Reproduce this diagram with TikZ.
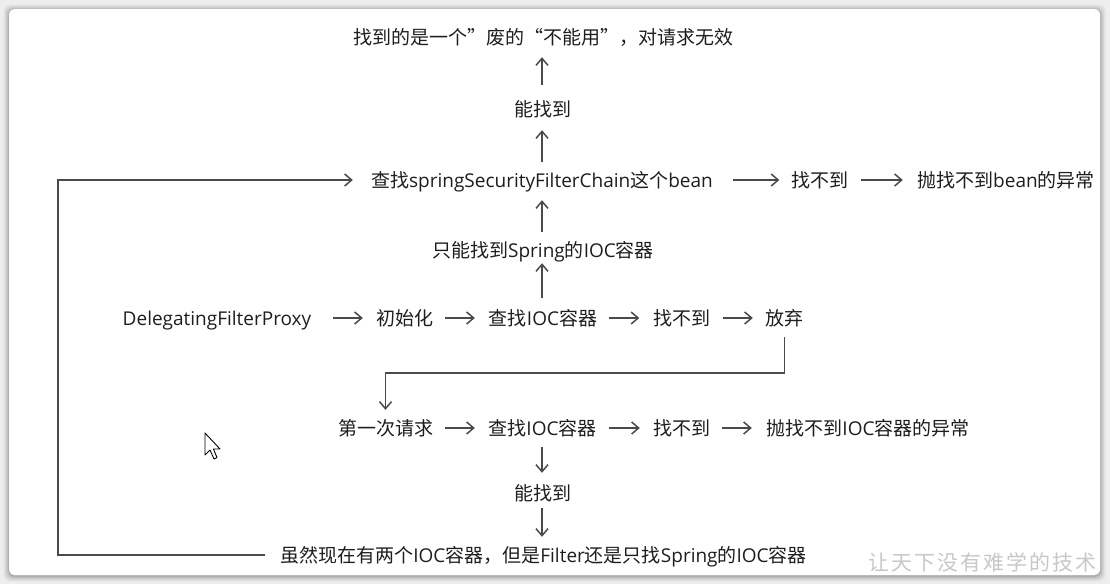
\documentclass[tikz,border=0pt]{standalone}
\usepackage{fontspec}
\setmainfont{Noto Sans CJK SC}
\newfontfamily\latinfont{Open Sans}
\newcommand\ltn[1]{{\latinfont #1}}
\usetikzlibrary{arrows.meta}
\definecolor{txt}{HTML}{1E1E1E}
\definecolor{ln}{HTML}{4A4A4A}
\definecolor{bg}{HTML}{EEEEEE}
\definecolor{wm}{HTML}{C8C8C8}
\begin{document}
\begin{tikzpicture}[x=1pt,y=-1pt,
  lbl/.style={inner sep=0pt, text height=16pt, text depth=2pt,
    font=\fontsize{19}{22}\selectfont, text=txt},
  flow/.style={draw=ln, line width=1.5pt,
    -{Straight Barb[length=7pt,width=12pt,line width=1.5pt]}}]
% page and card
\useasboundingbox (0,0) rectangle (1110,584);
\fill[bg] (0,0) rectangle (1110,584);
\foreach \d/\o in {6/0.02,5/0.03,4/0.04,3/0.05,2/0.06,1/0.08}
  \fill[black,opacity=\o,rounded corners=7pt] (9-\d,9-\d+1) rectangle (1100+\d,575+\d+1);
\fill[white,rounded corners=6pt] (9,9) rectangle (1100,575);

% guide coordinates
\coordinate (colx) at (542,0);
\coordinate (lx) at (58,0);
\coordinate (turn) at (0,373);

% labels
\node[lbl, minimum width=380pt] (res) at (543,37) {找到的是一个”废的“不能用”，对请求无效};
\node[lbl, minimum width=55pt] (find1) at (542.5,109) {能找到};
\node[lbl, minimum width=348pt] (chain) at (542,180) {查找\ltn{springSecurityFilterChain}这个\ltn{bean}};
\node[lbl, minimum width=56pt] (nf1) at (820,180) {找不到};
\node[lbl, minimum width=178pt] (exb) at (1006,180) {抛找不到\ltn{bean}的异常};
\node[lbl, minimum width=226pt] (spring) at (543,250) {只能找到\ltn{Spring}的\ltn{IOC}容器};
\node[lbl, minimum width=192pt] (dfp) at (217,318) {\ltn{DelegatingFilterProxy}};
\node[lbl, minimum width=57pt] (init) at (404.5,318) {初始化};
\node[lbl, minimum width=110pt] (ioc1) at (543,318) {查找\ltn{IOC}容器};
\node[lbl, minimum width=56pt] (nf2) at (682,318) {找不到};
\node[lbl, minimum width=39pt] (give) at (784.5,318) {放弃};
\node[lbl, minimum width=95pt] (req) at (385.5,428) {第一次请求};
\node[lbl, minimum width=109pt] (ioc2) at (542.5,428) {查找\ltn{IOC}容器};
\node[lbl, minimum width=57pt] (nf3) at (681.5,428) {找不到};
\node[lbl, minimum width=204pt] (exi) at (868,428) {抛找不到\ltn{IOC}容器的异常};
\node[lbl, minimum width=55pt] (find2) at (542.5,493) {能找到};
\node[lbl, minimum width=533pt] (both) at (543.5,555) {虽然现在有两个\ltn{IOC}容器，但是\ltn{Filter}还是只找\ltn{Spring}的\ltn{IOC}容器};

% startup row
\draw[flow, shorten <=20pt, shorten >=13pt] (dfp.east) -- (init.west);
\draw[flow, shorten <=12pt, shorten >=13pt] (init.east) -- (ioc1.west);
\draw[flow, shorten <=11pt, shorten >=14pt] (ioc1.east) -- (nf2.west);
\draw[flow, shorten <=12pt, shorten >=12pt] (nf2.east) -- (give.west);

% upward chain
\draw[flow, shorten <=11pt, shorten >=4pt] (ioc1.north -| colx) -- (spring.south -| colx);
\draw[flow, shorten <=9pt, shorten >=11pt] (spring.north -| colx) -- (chain.south -| colx);
\draw[flow, shorten <=9pt, shorten >=12pt] (chain.north -| colx) -- (find1.south -| colx);
\draw[flow, shorten <=15pt, shorten >=11pt] (find1.north -| colx) -- (res.south -| colx);

% bean lookup row
\draw[flow, shorten <=17pt, shorten >=12pt] (chain.east) -- (nf1.west);
\draw[flow, shorten <=12pt, shorten >=14pt] (nf1.east) -- (exb.west);

% give up -> first request
\draw[flow, shorten <=10pt, shorten >=9pt] (give.south) -- (give.south |- turn) -- (req.north |- turn) -- (req.north);

% request row
\draw[flow, shorten <=12pt, shorten >=13pt] (req.east) -- (ioc2.west);
\draw[flow, shorten <=12pt, shorten >=13pt] (ioc2.east) -- (nf3.west);
\draw[flow, shorten <=12pt, shorten >=14pt] (nf3.east) -- (exi.west);

% downward
\draw[flow, shorten <=10pt, shorten >=11pt] (ioc2.south -| colx) -- (find2.north -| colx);
\draw[flow, shorten <=6pt, shorten >=9pt] (find2.south -| colx) -- (both.north -| colx);

% loop back to the bean lookup
\draw[flow, shorten <=12pt, shorten >=15pt] (both.west) -- (both.west -| lx) -- (chain.west -| lx) -- (chain.west);

% mouse pointer
\filldraw[fill=white, draw=black, line width=0.9pt, line join=round]
  (205,433) -- ++(0,22) -- ++(5,-5) -- ++(4,9) -- ++(3,-1.5) -- ++(-3.6,-8.5) -- ++(6.6,0) -- cycle;

% watermark
\node[anchor=west, inner sep=0pt, text=wm, font=\fontsize{21}{24}\selectfont] (mark) at (868,562)
  {让\hskip2pt 天\hskip2pt 下\hskip2pt 没\hskip2pt 有\hskip2pt 难\hskip2pt 学\hskip2pt 的\hskip2pt 技\hskip2pt 术};
\end{tikzpicture}
\end{document}
